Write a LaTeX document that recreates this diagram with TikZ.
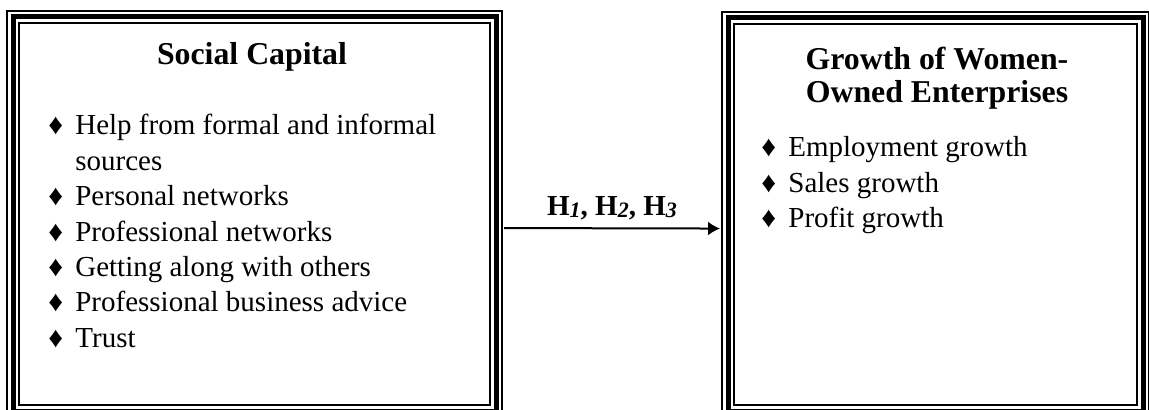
\documentclass[tikz,border=0pt]{standalone}
\usepackage{fontspec}
\setmainfont{Liberation Serif}
\usetikzlibrary{arrows.meta}

\newcommand{\bodyfont}{\fontsize{14.5}{17.7}\selectfont}
\newcommand{\headfont}{\fontsize{15.9}{16.5}\selectfont\bfseries}
\newcommand{\hsub}[1]{\raisebox{-1pt}{\fontsize{11}{11}\selectfont\bfseries\itshape #1}}

\begin{document}
\begin{tikzpicture}[x=0.5pt, y=-0.5pt,
  frame/.style={draw, line width=1pt, double, double distance=5pt,
    postaction={draw, line width=2.5pt}, inner sep=0pt},
  head/.style={anchor=base, inner sep=0pt, font=\headfont},
  items/.style={anchor=base west, inner sep=0pt, font=\bodyfont},
  link/.style={line width=1pt, -{Latex[length=6pt, width=7pt]}}]
  \useasboundingbox (0,0) rectangle (1149,410);
  % the two boxes
  \node[frame, minimum width=241.5pt, minimum height=197.25pt] (sc) at (254.5,214.25) {};
  \node[frame, minimum width=207.5pt, minimum height=196.75pt] (gw) at (935.5,214.75) {};
  % titles
  \node[head] (sctitle) at (252,65) {Social Capital};
  \node[head] (gwtitle) at (937,70) {\begin{tabular}[t]{@{}c@{}}Growth of Women-\\Owned Enterprises\end{tabular}};
  % lists
  \node[items] (sclist) at (48,135) {\begin{tabular}[t]{@{}p{13.5pt}@{}l@{}}
    ♦ & Help from formal and informal\\
      & sources\\
    ♦ & Personal networks\\
    ♦ & Professional networks\\
    ♦ & Getting along with others\\
    ♦ & Professional business advice\\
    ♦ & Trust
  \end{tabular}};
  \node[items] (gwlist) at (761,157) {\begin{tabular}[t]{@{}p{13.5pt}@{}l@{}}
    ♦ & Employment growth\\
    ♦ & Sales growth\\
    ♦ & Profit growth
  \end{tabular}};
  % hypotheses
  \draw[link] ([xshift=3.5pt, yshift=-6.9pt]sc.east) --
    node[anchor=base, yshift=6.5pt, inner sep=0pt, font=\bodyfont\bfseries] (hyp) {H\hsub{1}, H\hsub{2}, H\hsub{3}}
    ([xshift=-3.5pt, yshift=-6.9pt]gw.west);
\end{tikzpicture}
\end{document}
